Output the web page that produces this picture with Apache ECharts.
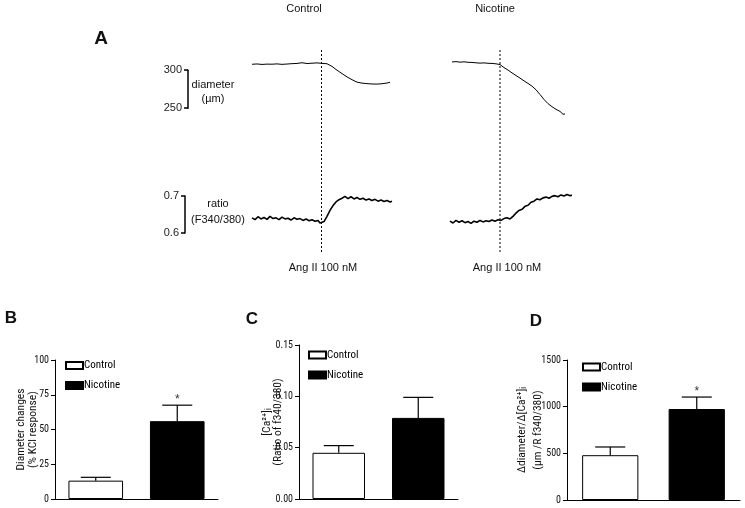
<!DOCTYPE html>
<html><head><meta charset="utf-8">
<script src="https://cdn.jsdelivr.net/npm/echarts@6/dist/echarts.min.js"></script>
<style>html,body{margin:0;padding:0;background:#fff}#c{width:745px;height:508px}</style>
</head><body><div id="c"></div>
<script>
// ---------- Panel A traces (time units, values) ----------
const ctrlDiamT = [0,5,10,15,20,25,30,35,40,45,50,55,60,65,70,75,80,85,90,95,100,105,110,115,120,125,130,135,138];
const ctrlDiamV = [307.8,308.2,307.6,308.0,307.9,308.3,307.7,308.1,308.6,308.9,309.8,308.8,309.2,309.6,309.0,308.5,305.0,300.0,295.5,291.2,287.5,284.3,283.0,282.3,281.9,281.7,282.2,283.1,284.1];
const ctrlRatioT = [0,3,6,9,12,15,18,21,24,27,30,33,36,39,42,45,48,51,54,57,60,63,66,68,70,72,75,78,81,84,87,90,93,96,99,102,105,108,111,114,117,120,123,126,129,132,135,138,140];
const ctrlRatioV = [0.641,0.636,0.644,0.638,0.642,0.637,0.645,0.639,0.641,0.636,0.643,0.638,0.640,0.635,0.641,0.637,0.639,0.634,0.638,0.633,0.636,0.632,0.634,0.627,0.624,0.631,0.645,0.661,0.674,0.684,0.690,0.694,0.699,0.693,0.698,0.692,0.696,0.691,0.694,0.689,0.692,0.688,0.691,0.686,0.689,0.685,0.688,0.684,0.686];
const nicDiamT = [2,6,10,14,18,22,26,30,34,38,42,46,50,54,58,62,66,70,74,78,82,86,90,94,98,102,106,110,113,114,115];
const nicDiamV = [310.8,311.3,310.6,311.0,310.4,310.2,309.7,309.3,309.6,309.1,308.9,308.4,307.4,303.5,300.2,296.5,293.0,289.6,286.0,282.6,279.0,274.2,268.0,261.5,256.0,252.0,248.5,245.8,242.0,240.0,242.5];
const nicRatioT = [0,3,6,9,12,15,18,21,24,27,30,33,36,39,42,45,48,51,54,57,60,63,66,69,72,75,78,81,84,87,90,93,96,99,102,105,108,111,114,117,120,122];
const nicRatioV = [0.632,0.627,0.634,0.629,0.633,0.628,0.631,0.626,0.632,0.629,0.634,0.630,0.633,0.631,0.635,0.632,0.636,0.634,0.639,0.641,0.638,0.645,0.654,0.661,0.664,0.672,0.675,0.683,0.686,0.692,0.690,0.695,0.697,0.694,0.699,0.701,0.698,0.703,0.700,0.704,0.701,0.702];
const angTime = [69.5, 50];           // Ang II application time (control, nicotine)
const diamScaleTicks = [250, 300];
const ratioScaleTicks = [0.6, 0.7];

// ---------- Panels B-D ----------
const groups = ['Control', 'Nicotine'];
const bMeans = [13.2, 56.0], bErr = [2.4, 11.5], bSig = ['', '*'];
const cMeans = [0.045, 0.079], cErr = [0.007, 0.020], cSig = ['', ''];
const dMeans = [480, 975], dErr = [88, 128], dSig = ['', '*'];
const bTicks = [0, 25, 50, 75, 100];
const cTicks = [0, 0.05, 0.10, 0.15];
const dTicks = [0, 500, 1000, 1500];

const zip = (t, v) => t.map((x, i) => [x, v[i]]);
const SANS = "'Liberation Sans', Arial, sans-serif";
const NARROW = "'Liberation Sans Narrow', 'Roboto Condensed', Roboto, 'Liberation Sans', sans-serif";

const grid = [], xAxis = [], yAxis = [], series = [];
function addGrid(g, xa, ya) { grid.push(g); const i = grid.length - 1; xa.gridIndex = i; ya.gridIndex = i; xAxis.push(xa); yAxis.push(ya); return i; }
const hidden = (o) => Object.assign({ show: false }, o);

// Trace grids
function traceColumn(left, width, xmax, diam, ratio, ang) {
  const gd = addGrid({ left, top: 55, width, height: 76 }, hidden({ type: 'value', min: 0, max: xmax }), hidden({ type: 'value', min: 220, max: 320 }));
  series.push({ type: 'line', xAxisIndex: gd, yAxisIndex: gd, data: diam, symbol: 'none', lineStyle: { color: '#000', width: 1 }, silent: true });
  const gr = addGrid({ left, top: 177.5, width, height: 74 }, hidden({ type: 'value', min: 0, max: xmax }), hidden({ type: 'value', min: 0.55, max: 0.75 }));
  series.push({ type: 'line', xAxisIndex: gr, yAxisIndex: gr, data: ratio, symbol: 'none', lineStyle: { color: '#000', width: 1.6 }, silent: true });
  const gm = addGrid({ left, top: 50, width, height: 202 }, hidden({ type: 'value', min: 0, max: xmax }), hidden({ type: 'value', min: 0, max: 1 }));
  series.push({ type: 'line', xAxisIndex: gm, yAxisIndex: gm, data: [[ang, 0], [ang, 1]], symbol: 'none', lineStyle: { color: '#000', width: 1, type: [2, 2] }, silent: true });
}
traceColumn(252, 140, 140, zip(ctrlDiamT, ctrlDiamV), zip(ctrlRatioT, ctrlRatioV), angTime[0]);
traceColumn(450, 122, 122, zip(nicDiamT, nicDiamV), zip(nicRatioT, nicRatioV), angTime[1]);

// Scale bars
function scaleBar(left, top, height, ticks, fmt) {
  addGrid({ left, top, width: 10, height }, hidden({ type: 'value', min: 0, max: 1 }), {
    type: 'value', min: ticks[0], max: ticks[1], interval: ticks[1] - ticks[0],
    axisLine: { show: true, lineStyle: { color: '#000', width: 1.5 } },
    axisTick: { show: true, length: 4, lineStyle: { color: '#000', width: 1.5 } },
    axisLabel: { show: true, color: '#222', fontSize: 11, fontFamily: SANS, margin: 6, formatter: fmt },
    splitLine: { show: false }
  });
}
scaleBar(188, 70.2, 38, diamScaleTicks, v => String(v));
scaleBar(185, 196, 37, ratioScaleTicks, v => v.toFixed(1));

// Bar panels
const legends = [];
function barPanel(g, ticks, means, errs, sig, name, nameGap, nameSize, nameLH, barW, legendPos, fmt) {
  const i = addGrid(g, {
    type: 'category', data: groups, axisLine: { show: true, lineStyle: { color: '#000', width: 1 } },
    axisTick: { show: false }, axisLabel: { show: false }
  }, {
    type: 'value', min: ticks[0], max: ticks[ticks.length - 1], interval: ticks[1] - ticks[0],
    axisLine: { show: true, lineStyle: { color: '#000', width: 1 } },
    axisTick: { show: true, length: 4, lineStyle: { color: '#000' } },
    axisLabel: { color: '#111', fontSize: 10, fontFamily: NARROW, margin: 6, formatter: fmt },
    splitLine: { show: false },
    name, nameLocation: 'middle', nameRotate: 90, nameGap, nameMoveOverlap: false,
    nameTextStyle: { color: '#111', fontSize: nameSize, fontFamily: NARROW, lineHeight: nameLH, align: 'center' }
  });
  const st = 'stack' + i;
  series.push({ type: 'bar', name: 'Control', xAxisIndex: i, yAxisIndex: i, stack: st, barWidth: barW,
    data: [means[0], '-'], itemStyle: { color: '#fff', borderColor: '#000', borderWidth: 1 }, silent: true });
  series.push({ type: 'bar', name: 'Nicotine', xAxisIndex: i, yAxisIndex: i, stack: st, barWidth: barW,
    data: ['-', means[1]], itemStyle: { color: '#000', borderColor: '#000', borderWidth: 1 }, silent: true });
  series.push({ type: 'custom', xAxisIndex: i, yAxisIndex: i, silent: true, z: 5,
    data: means.map((m, k) => [k, m, errs[k]]),
    renderItem: (params, api) => {
      const x = api.value(0), m = api.value(1), e = api.value(2);
      const base = api.coord([x, m]), top = api.coord([x, m + e]);
      const ls = { stroke: '#000', lineWidth: 1.2 };
      const ch = [
        { type: 'line', shape: { x1: base[0], y1: base[1], x2: top[0], y2: top[1] }, style: ls },
        { type: 'line', shape: { x1: top[0] - 15, y1: top[1], x2: top[0] + 15, y2: top[1] }, style: ls }
      ];
      const s = sig[params.dataIndex];
      if (s) ch.push({ type: 'text', style: { text: s, x: top[0], y: top[1] - 5, textAlign: 'center', textVerticalAlign: 'middle', fill: '#333', font: '12px ' + SANS } });
      return { type: 'group', children: ch };
    }
  });
  legends.push({
    data: groups, orient: 'vertical', left: legendPos[0], top: legendPos[1], itemWidth: 17, itemHeight: 7, itemGap: 8,
    icon: 'rect', selectedMode: false,
    textStyle: { color: '#000', fontSize: 11, fontFamily: NARROW, lineHeight: 12, padding: [0, 0, 0, -4] }
  });
}
barPanel({ left: 55, top: 360, width: 163, height: 139 }, bTicks, bMeans, bErr, bSig,
  'Diameter changes\n(% KCl response)', 16, 11.5, 12, '67%', [60, 354.5], v => String(v));
barPanel({ left: 299, top: 345, width: 159, height: 154 }, cTicks, cMeans, cErr, cSig,
  '[Ca²⁺]ᵢ\n(Ratio of f340/380)', 15, 11.5, 11, '66%', [303, 344], v => v.toFixed(2));
barPanel({ left: 567, top: 360, width: 173, height: 140 }, dTicks, dMeans, dErr, dSig,
  'Δdiameter/Δ[Ca²⁺]ᵢ\n(µm /R f340/380)', 21, 11.5, 16, '65%', [577, 356], v => String(v));

// Texts
const txt = (x, y, text, font, extra) => Object.assign({ type: 'text', x, y, silent: true,
  style: { text, font, fill: '#111', textAlign: 'center', textVerticalAlign: 'middle' } }, extra || {});
const graphic = [
  txt(304, 9, 'Control', '11px ' + SANS),
  txt(495, 9, 'Nicotine', '11px ' + SANS),
  txt(101, 39, 'A', 'bold 19px ' + SANS),
  txt(213, 85, 'diameter', '11px ' + SANS),
  txt(213, 99, '(µm)', '11px ' + SANS),
  txt(218, 204, 'ratio', '11px ' + SANS),
  txt(218, 220, '(F340/380)', '11px ' + SANS),
  txt(323, 268, 'Ang II 100 nM', '11px ' + SANS),
  txt(507, 268, 'Ang II 100 nM', '11px ' + SANS),
  txt(11, 318, 'B', 'bold 17px ' + SANS),
  txt(252, 319, 'C', 'bold 17px ' + SANS),
  txt(536, 321, 'D', 'bold 17px ' + SANS)
];

const chart = echarts.init(document.getElementById('c'), null, { renderer: 'canvas' });
chart.setOption({
  animation: false, backgroundColor: '#fff',
  grid, xAxis, yAxis, series, legend: legends, graphic
});
</script></body></html>
